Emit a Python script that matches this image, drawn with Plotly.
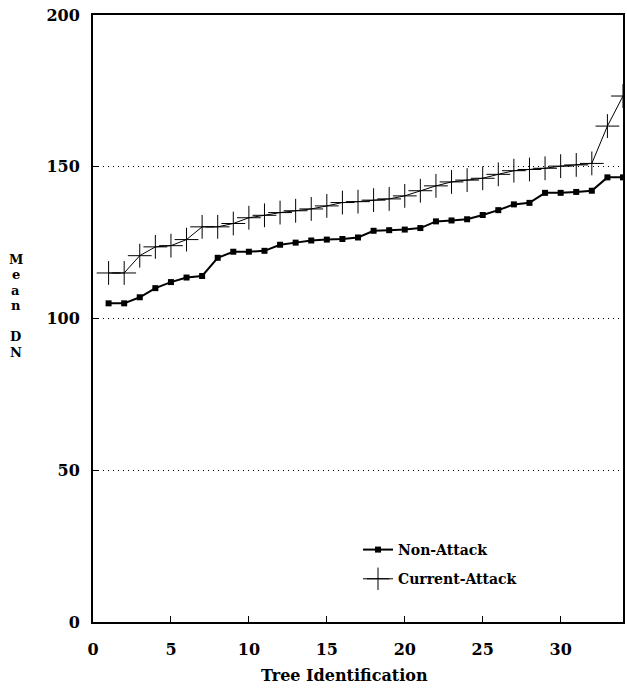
import plotly.graph_objects as go

tree_id = list(range(1, 35))
non_attack = [105, 105, 107, 110, 112, 113.5, 114, 120, 122, 122,
              122.3, 124.3, 125, 125.7, 126, 126.2, 126.7, 128.9, 129.1, 129.3,
              129.8, 132, 132.3, 132.7, 134.1, 135.7, 137.6, 138.1, 141.4, 141.4,
              141.7, 142.1, 146.5, 146.5]
current_attack = [115, 115, 120.7, 123.6, 124, 126, 130.2, 130.2, 131.3, 133.2,
                  134, 134.9, 135.5, 136.1, 137.1, 138.2, 138.5, 139, 139.4, 140.4,
                  142.1, 143.7, 145, 145.6, 146.2, 147.5, 148.7, 149.1, 149.5, 150.2,
                  150.6, 151.1, 163.4, 173.3]
x_ticks = [0, 5, 10, 15, 20, 25, 30]
y_ticks = [0, 50, 100, 150, 200]
y_title_letters = ["M", "e", "a", "n", "", "D", "N"]

FONT = "DejaVu Serif"

fig = go.Figure()
fig.add_trace(go.Scatter(
    x=tree_id, y=non_attack, mode="lines+markers", name="<b>Non-Attack</b>",
    line=dict(color="black", width=2),
    marker=dict(symbol="square", size=6, color="black"),
    legendgroup="a",
))
fig.add_trace(go.Scatter(
    x=tree_id, y=current_attack, mode="lines+markers", name="<b>Current-Attack</b>",
    line=dict(color="black", width=1),
    marker=dict(symbol="cross-thin", size=17, line=dict(color="black", width=1)),
    legendgroup="b",
))

axis_common = dict(
    showline=True, linecolor="black", linewidth=2, mirror=True,
    ticks="inside", tickcolor="black", ticklen=6, tickwidth=1,
    tickfont=dict(family=FONT, size=16, color="black"),
    zeroline=False,
)

fig.update_xaxes(range=[0, 34], tickvals=x_ticks,
                 ticktext=[f"<b>{v}</b>" for v in x_ticks], showgrid=False,
                 ticklabelstandoff=12, **axis_common)
fig.update_yaxes(range=[0, 200], tickvals=y_ticks,
                 ticktext=[f"<b>{v}</b>" for v in y_ticks], showgrid=True,
                 gridcolor="black", gridwidth=1, griddash="1px,4px",
                 ticklabelstandoff=8, **axis_common)

# stacked y-axis title, one letter per line
plot_h = 692 - 15 - 70
top_px = 259
pitch = 15.5
for i, ch in enumerate(y_title_letters):
    if not ch:
        continue
    ypx = top_px + i * pitch
    fig.add_annotation(
        text=f"<b>{ch}</b>", xref="paper", yref="paper",
        x=-0.146, y=(692 - 70 - ypx) / plot_h, xanchor="center", yanchor="middle",
        showarrow=False, font=dict(family=FONT, size=13, color="black"),
    )

fig.add_annotation(
    text="<b>Tree Identification</b>", xref="paper", yref="paper",
    x=0.475, y=-0.088, xanchor="center", yanchor="middle", showarrow=False,
    font=dict(family=FONT, size=16, color="black"),
)

fig.update_layout(
    width=627, height=692,
    margin=dict(l=93, r=2, t=15, b=70),
    paper_bgcolor="white", plot_bgcolor="white",
    showlegend=True,
    legend=dict(x=0.5, y=0.145, xanchor="left", yanchor="top",
                bgcolor="rgba(0,0,0,0)", traceorder="grouped", tracegroupgap=8,
                font=dict(family=FONT, size=14, color="black")),
)

fig.write_html("out.html")
